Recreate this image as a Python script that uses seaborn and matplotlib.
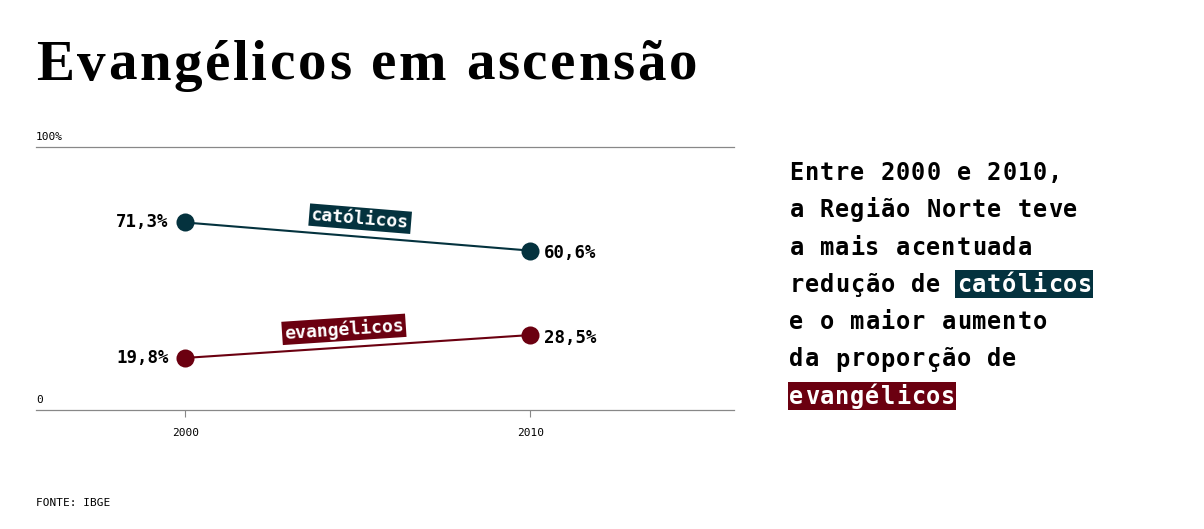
import math
import matplotlib.pyplot as plt
import seaborn as sns
import pandas as pd
from matplotlib.patches import Rectangle
from matplotlib.font_manager import FontProperties

# data
anos = [2000, 2010]
catolicos = [71.3, 60.6]
evangelicos = [19.8, 28.5]
rotulos_cat = ["71,3%", "60,6%"]
rotulos_evan = ["19,8%", "28,5%"]
grupos = ["católicos", "evangélicos"]
cores = {"católicos": "#04323e", "evangélicos": "#6b0010"}

titulo = "Evangélicos em ascensão"
fonte = "FONTE: IBGE"
texto_lateral = [
    "Entre 2000 e 2010,",
    "a Região Norte teve",
    "a mais acentuada",
    "redução de católicos",
    "e o maior aumento",
    "da proporção de",
    "evangélicos",
]

df = pd.DataFrame({
    "ano": anos * 2,
    "valor": catolicos + evangelicos,
    "grupo": [grupos[0]] * 2 + [grupos[1]] * 2,
})

sns.set_style("white")
plt.rcParams["font.family"] = ["DejaVu Sans Mono"]
plt.rcParams["text.color"] = "black"
plt.rcParams["xtick.color"] = "black"

W, H = 1204, 529
fig = plt.figure(figsize=(W / 100, H / 100), dpi=100)


def px(x, y):
    return x / W, 1 - y / H


ax = fig.add_axes([36 / W, 1 - 410 / H, (734 - 36) / W, (410 - 147) / H])
sns.lineplot(data=df, x="ano", y="valor", hue="grupo", palette=cores,
             marker="o", markersize=13, markeredgewidth=0, linewidth=1.5,
             legend=False, ax=ax)
ax.set_xlim(1995.68, 2015.9)
ax.set_ylim(0, 100)
ax.set_xlabel("")
ax.set_ylabel("")
ax.set_yticks([])
ax.set_xticks(anos)
ax.set_xticklabels([str(a) for a in anos])
ax.tick_params(axis="x", direction="out", length=5, width=0.8, color="#888888",
               labelsize=8, labelcolor="black", pad=8, bottom=True)
for s in ["left", "right"]:
    ax.spines[s].set_visible(False)
for s in ["top", "bottom"]:
    ax.spines[s].set_color("#888888")
    ax.spines[s].set_linewidth(0.9)

# y labels sitting above the lines
ax.text(0, 102, "100%", transform=ax.get_yaxis_transform(), fontsize=8,
        ha="left", va="bottom")
ax.text(0, 2, "0", transform=ax.get_yaxis_transform(), fontsize=8,
        ha="left", va="bottom")

# value labels
for vals, rots in [(catolicos, rotulos_cat), (evangelicos, rotulos_evan)]:
    ax.annotate(rots[0], (anos[0], vals[0]), xytext=(-12, 0),
                textcoords="offset points", ha="right", va="center",
                fontsize=12.5, fontweight="bold")
    ax.annotate(rots[1], (anos[1], vals[1]), xytext=(10, -2),
                textcoords="offset points", ha="left", va="center",
                fontsize=12.5, fontweight="bold")

# series labels along the lines
for nome, vals, xm in [(grupos[0], catolicos, 2005.07), (grupos[1], evangelicos, 2004.6)]:
    p0 = ax.transData.transform((anos[0], vals[0]))
    p1 = ax.transData.transform((anos[1], vals[1]))
    ang = math.degrees(math.atan2(p1[1] - p0[1], p1[0] - p0[0]))
    ym = vals[0] + (vals[1] - vals[0]) * (xm - anos[0]) / (anos[1] - anos[0])
    ax.annotate(nome, (xm, ym), xytext=(0, 13), textcoords="offset points",
                ha="center", va="center", rotation=ang, rotation_mode="anchor",
                fontsize=13, fontweight="bold", color="white",
                bbox=dict(boxstyle="square,pad=0.12", fc=cores[nome], ec="none"))

# title with letter spacing: place each char, spread from x=36 to x=697
fp = FontProperties(family="Liberation Serif", weight="bold", size=41)
rend = fig.canvas.get_renderer()


def larg(s):
    # advance width of s, measured against a trailing bar so spaces count
    w1 = rend.get_text_width_height_descent(s + "|", fp, ismath=False)[0]
    w2 = rend.get_text_width_height_descent("|", fp, ismath=False)[0]
    return w1 - w2


natural = larg(titulo[:-1]) + rend.get_text_width_height_descent(titulo[-1], fp, ismath=False)[0]
track = (697 - 36 - natural) / (len(titulo) - 1)
for k, ch in enumerate(titulo):
    fig.text(*px(36 + larg(titulo[:k]) + k * track, 80), ch, fontproperties=fp,
             ha="left", va="baseline", color="black")

# side text, drawn char by char to keep the wide letter spacing
x0, passo, y0, entrelinha = 789, 15.2, 180, 37.3
destaques = {3: ("católicos", 11), 6: ("evangélicos", 0)}
for i, linha in enumerate(texto_lateral):
    yb = y0 + i * entrelinha
    if i in destaques:
        palavra, ini = destaques[i]
        cor = cores[palavra]
        bx, by = px(x0 + ini * passo - 1, yb + 6)
        fig.patches.append(Rectangle((bx, by), (len(palavra) * passo + 1) / W, 28 / H,
                                     transform=fig.transFigure, fc=cor, ec="none",
                                     zorder=0))
    for j, ch in enumerate(linha):
        cor_txt = "black"
        if i in destaques:
            palavra, ini = destaques[i]
            if ini <= j < ini + len(palavra):
                cor_txt = "white"
        fig.text(*px(x0 + (j + 0.5) * passo, yb), ch, fontsize=17,
                 fontweight="bold", ha="center", va="baseline", color=cor_txt)

fig.text(*px(36, 506), fonte, fontsize=8, ha="left", va="baseline")

fig.savefig("out.png", dpi=100, facecolor="white")
